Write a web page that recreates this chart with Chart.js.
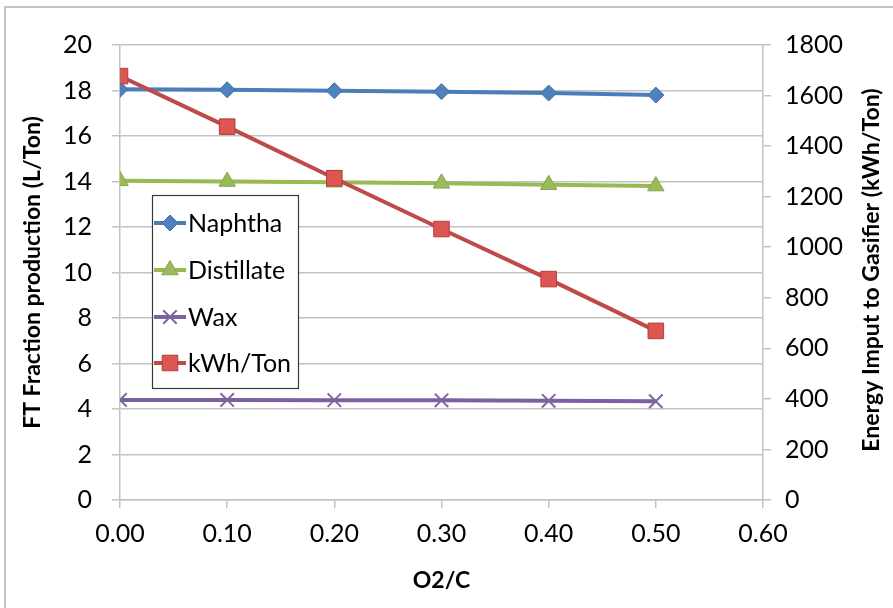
<!DOCTYPE html>
<html>
<head>
<meta charset="utf-8">
<script src="https://cdn.jsdelivr.net/npm/chart.js@4/dist/chart.umd.min.js"></script>
<style>
  html, body { margin: 0; padding: 0; background: #fff; }
  #wrap { width: 893px; height: 608px; position: relative; }
</style>
</head>
<body>
<div id="wrap"><canvas id="c" width="893" height="608"></canvas></div>
<script>
// ---- data ----
const o2c = [0.0, 0.1, 0.2, 0.3, 0.4, 0.5];
const naphtha = [18.05, 18.03, 17.99, 17.95, 17.89, 17.80];
const distillate = [14.03, 14.00, 13.97, 13.92, 13.86, 13.80];
const wax = [4.40, 4.40, 4.39, 4.38, 4.36, 4.34];
const kwhPerTon = [1677, 1477, 1273, 1072, 874, 669];
const seriesNames = ['Naphtha', 'Distillate', 'Wax', 'kWh/Ton'];
const xTitle = 'O2/C';
const yLeftTitle = 'FT Fraction production (L/Ton)';
const yRightTitle = 'Energy Imput to Gasifier (kWh/Ton)';

const FONT = 'Lato, "Open Sans", sans-serif';
const GRID = '#c3c3c3';

function pts(ys) { return o2c.map((x, i) => ({ x: x, y: ys[i] })); }

const styles = [
  { line: '#4a7ebb', fill: '#4f81bd', border: '#3f6fa8', shape: 'rectRot', r: 8 },
  { line: '#98b954', fill: '#9bbb59', border: '#86a64a', shape: 'triangle', r: 9.5 },
  { line: '#7d60a0', fill: '#8064a2', border: '#8064a2', shape: 'crossRot', r: 9.5 },
  { line: '#be4b48', fill: '#dc5652', border: '#b03f3c', shape: 'rect', r: 11 }
];
const values = [naphtha, distillate, wax, kwhPerTon];
const axisIds = ['y', 'y', 'y', 'y1'];

const datasets = values.map((v, i) => ({
  label: seriesNames[i],
  data: pts(v),
  yAxisID: axisIds[i],
  borderColor: styles[i].line,
  backgroundColor: styles[i].fill,
  borderWidth: 4,
  pointStyle: styles[i].shape,
  pointRadius: styles[i].r,
  pointHoverRadius: styles[i].r,
  pointBackgroundColor: styles[i].fill,
  pointBorderColor: styles[i].shape === 'crossRot' ? styles[i].fill : styles[i].border,
  pointBorderWidth: styles[i].shape === 'crossRot' ? 2 : 1,
  showLine: true,
  tension: 0,
  order: 4 - i
}));

function drawMarker(ctx, st, x, y) {
  ctx.save();
  ctx.fillStyle = st.fill;
  ctx.strokeStyle = st.shape === 'crossRot' ? st.fill : st.border;
  ctx.lineWidth = st.shape === 'crossRot' ? 2 : 1;
  const r = st.r;
  ctx.beginPath();
  if (st.shape === 'rectRot') {
    ctx.moveTo(x, y - r); ctx.lineTo(x + r, y); ctx.lineTo(x, y + r); ctx.lineTo(x - r, y); ctx.closePath();
    ctx.fill(); ctx.stroke();
  } else if (st.shape === 'triangle') {
    ctx.moveTo(x, y - r); ctx.lineTo(x + r * 0.866, y + r / 2); ctx.lineTo(x - r * 0.866, y + r / 2); ctx.closePath();
    ctx.fill(); ctx.stroke();
  } else if (st.shape === 'crossRot') {
    const s = r * 0.707;
    ctx.moveTo(x - s, y - s); ctx.lineTo(x + s, y + s);
    ctx.moveTo(x + s, y - s); ctx.lineTo(x - s, y + s);
    ctx.stroke();
  } else {
    const s = r * 0.707;
    ctx.rect(x - s, y - s, 2 * s, 2 * s);
    ctx.fill(); ctx.stroke();
  }
  ctx.restore();
}

const decor = {
  id: 'decor',
  afterDraw(chart) {
    const ctx = chart.ctx;
    ctx.save();
    // outer frame
    ctx.strokeStyle = '#c4c4c4';
    ctx.lineWidth = 2;
    ctx.beginPath();
    ctx.moveTo(5, 608); ctx.lineTo(5, 7); ctx.lineTo(893, 7);
    ctx.stroke();

    // right axis title (reads bottom to top)
    ctx.translate(872, 270);
    ctx.rotate(-Math.PI / 2);
    ctx.font = 'bold 23px ' + FONT;
    ctx.fillStyle = '#000';
    ctx.textAlign = 'center';
    ctx.textBaseline = 'middle';
    ctx.fillText(yRightTitle, 0, 0);
    ctx.restore();

    // legend box
    ctx.save();
    ctx.fillStyle = '#fff';
    ctx.fillRect(152, 195, 147, 194);
    ctx.strokeStyle = '#3a3a3a';
    ctx.lineWidth = 1.2;
    ctx.strokeRect(152.5, 195.5, 146, 193);
    const rows = [223, 270, 317, 363];
    ctx.font = '25px ' + FONT;
    ctx.textAlign = 'left';
    ctx.textBaseline = 'middle';
    rows.forEach((ry, i) => {
      const st = styles[i];
      ctx.strokeStyle = st.line;
      ctx.lineWidth = 4;
      ctx.beginPath();
      ctx.moveTo(154, ry); ctx.lineTo(186, ry);
      ctx.stroke();
      drawMarker(ctx, st, 170, ry);
      ctx.fillStyle = '#000';
      ctx.fillText(seriesNames[i], 188, ry + 1);
    });
    ctx.restore();
  }
};

new Chart(document.getElementById('c'), {
  type: 'scatter',
  data: { datasets: datasets },
  plugins: [decor],
  options: {
    responsive: false,
    animation: false,
    devicePixelRatio: 1,
    layout: { padding: { top: 45, left: 0, right: 0, bottom: 0 } },
    plugins: { legend: { display: false }, tooltip: { enabled: false } },
    scales: {
      x: {
        type: 'linear', position: 'bottom', min: 0, max: 0.6,
        afterFit(s) { s.height = 108; },
        ticks: {
          stepSize: 0.1, color: '#000', padding: 11,
          font: { family: FONT, size: 25 },
          callback: v => Number(v).toFixed(2),
          maxRotation: 0, autoSkip: false
        },
        grid: { drawOnChartArea: false, drawTicks: true, tickLength: 8, color: GRID, lineWidth: 1.5 },
        border: { color: GRID, width: 1.5 },
        title: { display: true, text: xTitle, color: '#000', font: { family: FONT, size: 23, weight: 'bold' }, padding: { top: 0, bottom: 14 } }
      },
      y: {
        type: 'linear', position: 'left', min: 0, max: 20,
        afterFit(s) { s.width = 120; },
        ticks: { stepSize: 2, color: '#000', padding: 20, font: { family: FONT, size: 25 }, callback: v => String(v) },
        grid: { color: GRID, lineWidth: 1.5, tickLength: 8 },
        border: { color: GRID, width: 1.5 },
        title: { display: true, text: yLeftTitle, color: '#000', font: { family: FONT, size: 23, weight: 'bold' }, padding: { top: 19, bottom: 0 } }
      },
      y1: {
        type: 'linear', position: 'right', min: 0, max: 1800,
        afterFit(s) { s.width = 130; },
        ticks: { stepSize: 200, color: '#000', padding: 14, font: { family: FONT, size: 25 }, callback: v => String(v) },
        grid: { drawOnChartArea: false, color: GRID, lineWidth: 1.5, tickLength: 8 },
        border: { color: GRID, width: 1.5 },
        title: { display: false }
      }
    }
  }
});
</script>
</body>
</html>
